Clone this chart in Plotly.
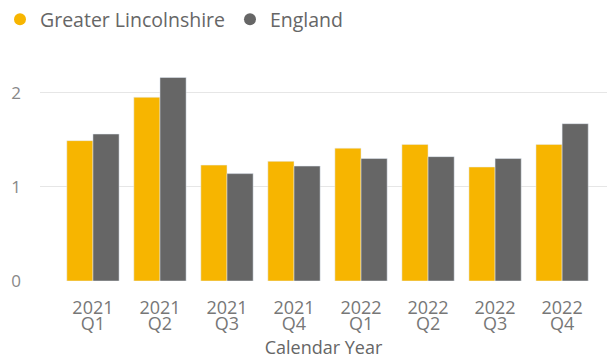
import plotly.graph_objects as go

# Quarterly figures, Greater Lincolnshire vs England
years = ["2021", "2021", "2021", "2021", "2022", "2022", "2022", "2022"]
quarter_labels = ["Q1", "Q2", "Q3", "Q4", "Q1", "Q2", "Q3", "Q4"]
greater_lincolnshire = [1.49, 1.95, 1.23, 1.27, 1.41, 1.45, 1.21, 1.45]
england = [1.56, 2.16, 1.14, 1.22, 1.30, 1.32, 1.30, 1.67]

YELLOW = "#F7B500"
GREY = "#666666"
FONT = "Open Sans, Noto Sans, sans-serif"

fig = go.Figure()
idx = list(range(len(years)))
fig.add_trace(go.Bar(x=idx, y=greater_lincolnshire, name="Greater Lincolnshire",
                     marker_color=YELLOW, showlegend=False))
fig.add_trace(go.Bar(x=idx, y=england, name="England",
                     marker_color=GREY, showlegend=False))

# Empty trace so the quarter-label axis is rendered
fig.add_trace(go.Scatter(x=[None], y=[None], xaxis="x2", showlegend=False,
                         hoverinfo="skip"))

# Circle legend entries
for name, col in [("Greater Lincolnshire", YELLOW), ("England", GREY)]:
    fig.add_trace(go.Scatter(x=[None], y=[None], mode="markers", name=name,
                             marker=dict(symbol="circle", size=14, color=col)))

xrange = [-0.79, 7.67]
fig.update_layout(
    width=610, height=362,
    margin=dict(l=40, r=3, t=50, b=81),
    paper_bgcolor="white", plot_bgcolor="white",
    barmode="group", bargap=0.22, bargroupgap=0,
    font=dict(family=FONT, color="#777777"),
    legend=dict(orientation="h", xref="container", x=0, xanchor="left",
                yref="container", y=1, yanchor="top",
                font=dict(size=19.5, color="#666666"),
                itemsizing="constant", tracegroupgap=0),
    # year row
    xaxis=dict(tickmode="array", tickvals=idx, ticktext=years,
               range=xrange, showgrid=False, zeroline=False,
               tickfont=dict(size=18, color="#777777"), ticks="",
               ticklabelstandoff=14),
    # quarter row
    xaxis2=dict(tickmode="array", tickvals=idx, ticktext=quarter_labels,
                range=xrange, overlaying="x", anchor="y", side="bottom",
                showgrid=False, zeroline=False, showline=False,
                tickfont=dict(size=18, color="#777777"), ticks="",
                ticklabelstandoff=30,
                title=dict(text="Calendar Year", font=dict(size=18, color="#666666"),
                           standoff=2)),
    yaxis=dict(range=[0, 2.452], tickvals=[0, 1, 2], showgrid=True,
               gridcolor="#E6E6E6", gridwidth=1, zeroline=False,
               tickfont=dict(size=17, color="#888888"), ticklabelstandoff=18),
)

fig.write_html("out.html")
